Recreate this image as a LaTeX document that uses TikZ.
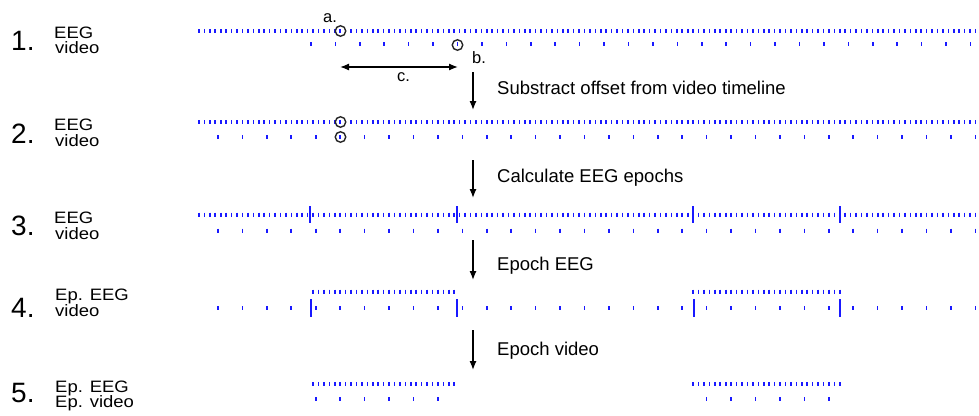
\documentclass[tikz,border=0pt]{standalone}
\usepackage{fontspec}
\setmainfont{Liberation Sans}
\usetikzlibrary{arrows.meta}
\definecolor{tickblue}{RGB}{25,25,255}
\newcommand\wide[1]{\scalebox{1.12}[1]{#1}}
\newcommand\eegrow[3]{\foreach \k in {#2,...,#3} \draw[tk] ({199+5.43*\k},{#1-2}) -- ++(0,4);}
\newcommand\vidrow[4]{\foreach \k in {#3,...,#4} \draw[tk] ({#2+24.43*\k},{#1-2}) -- ++(0,4);}
\begin{document}
\begin{tikzpicture}[x=1pt,y=-1pt,
  tk/.style={draw=tickblue,line width=1.6pt},
  mk/.style={draw=tickblue,line width=1.8pt},
  num/.style={anchor=base west,inner sep=0pt,font=\fontsize{28}{28}\selectfont},
  lab/.style={anchor=base west,inner sep=0pt,font=\fontsize{16.5}{16.5}\selectfont},
  act/.style={anchor=base west,inner sep=0pt,font=\fontsize{18.5}{18.5}\selectfont},
  sm/.style={anchor=base west,inner sep=0pt,font=\fontsize{16.5}{16.5}\selectfont},
  arr/.style={-{Latex[length=9pt,width=7pt]},line width=1.3pt},
  circ/.style={draw=black!85,line width=1.4pt,circle,minimum size=10.5pt,inner sep=0pt}
]
\useasboundingbox (0,0) rectangle (979,415);
% left labels
\node[num] (n1) at (11,50) {1.};
\node[lab] (e1) at (54,38) {\wide{EEG}};
\node[lab] (v1) at (55,53) {\wide{video}};
\node[num] (n2) at (11,143) {2.};
\node[lab] (e2) at (54,130) {\wide{EEG}};
\node[lab] (v2) at (55,146) {\wide{video}};
\node[num] (n3) at (11,235) {3.};
\node[lab] (e3) at (54,223) {\wide{EEG}};
\node[lab] (v3) at (55,239) {\wide{video}};
\node[num] (n4) at (11,317) {4.};
\node[lab] (e4) at (55,300) {\wide{Ep. EEG}};
\node[lab] (v4) at (55,316) {\wide{video}};
\node[num] (n5) at (11,402) {5.};
\node[lab] (e5) at (55,392) {\wide{Ep. EEG}};
\node[lab] (v5) at (55,407) {\wide{Ep. video}};
% row 1
\eegrow{31}{0}{143}
\vidrow{44}{310.9}{0}{27}
% row 2
\eegrow{122}{0}{143}
\vidrow{137}{218}{0}{31}
% row 3
\eegrow{214.5}{0}{143}
\vidrow{230.5}{218}{0}{31}
\foreach \m in {310,457,693,840} \draw[mk] (\m,206) -- (\m,223);
% row 4
\eegrow{291.5}{21}{47}
\eegrow{291.5}{91}{118}
\vidrow{308}{218}{0}{31}
\foreach \m in {311,457,694,840} \draw[mk] (\m,299) -- (\m,317);
% row 5
\eegrow{384}{21}{47}
\eegrow{384}{91}{118}
\vidrow{399}{218}{4}{9}
\vidrow{399}{218}{20}{25}
% circles and annotations
\node[circ] (ca) at (340.5,31) {};
\node[circ] (cb) at (457.5,45) {};
\node[circ] (ca2) at (340.5,122) {};
\node[circ] (cb2) at (340.5,137) {};
\node[sm] (la) at (323,22) {a.};
\node[sm] (lb) at (472,63) {b.};
\node[sm] (lc) at (397,81) {c.};
\coordinate (c1) at (340,67);
\coordinate (c2) at (458,67);
\draw[line width=1.3pt,{Latex[length=9pt,width=7pt]}-{Latex[length=9pt,width=7pt]}] (c1) -- (c2);
% step arrows
\coordinate (a1s) at (473,72);  \coordinate (a1e) at (473,110);
\coordinate (a2s) at (473,160); \coordinate (a2e) at (473,198);
\coordinate (a3s) at (473,240); \coordinate (a3e) at (473,280);
\coordinate (a4s) at (473,330); \coordinate (a4e) at (473,370);
\draw[arr] (a1s) -- (a1e);
\draw[arr] (a2s) -- (a2e);
\draw[arr] (a3s) -- (a3e);
\draw[arr] (a4s) -- (a4e);
\node[act] (t1) at (497,94) {Substract offset from video timeline};
\node[act] (t2) at (497,182) {Calculate EEG epochs};
\node[act] (t3) at (497,270) {Epoch EEG};
\node[act] (t4) at (497,355) {Epoch video};
\end{tikzpicture}
\end{document}
